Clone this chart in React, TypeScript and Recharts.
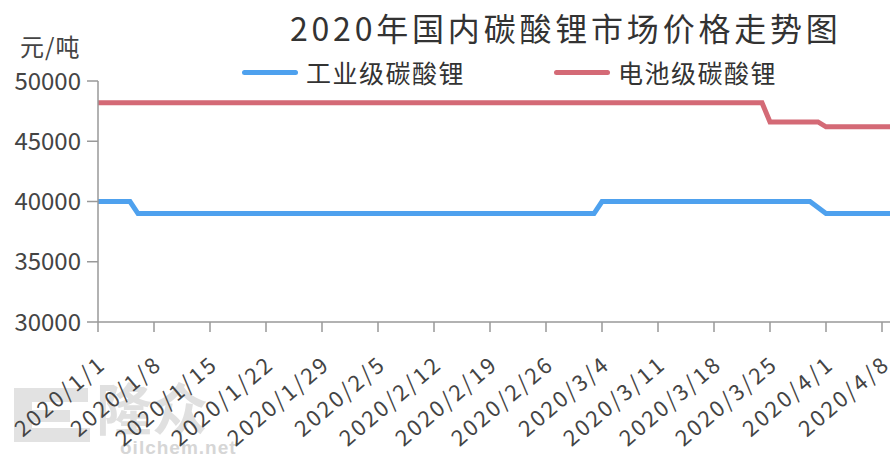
import React from 'react';
import { LineChart, Line, XAxis, YAxis } from 'recharts';

const dates: string[] = [
  '2020/1/1','2020/1/2','2020/1/3','2020/1/4','2020/1/5','2020/1/6','2020/1/7','2020/1/8','2020/1/9','2020/1/10',
  '2020/1/11','2020/1/12','2020/1/13','2020/1/14','2020/1/15','2020/1/16','2020/1/17','2020/1/18','2020/1/19','2020/1/20',
  '2020/1/21','2020/1/22','2020/1/23','2020/1/24','2020/1/25','2020/1/26','2020/1/27','2020/1/28','2020/1/29','2020/1/30',
  '2020/1/31','2020/2/1','2020/2/2','2020/2/3','2020/2/4','2020/2/5','2020/2/6','2020/2/7','2020/2/8','2020/2/9',
  '2020/2/10','2020/2/11','2020/2/12','2020/2/13','2020/2/14','2020/2/15','2020/2/16','2020/2/17','2020/2/18','2020/2/19',
  '2020/2/20','2020/2/21','2020/2/22','2020/2/23','2020/2/24','2020/2/25','2020/2/26','2020/2/27','2020/2/28','2020/2/29',
  '2020/3/1','2020/3/2','2020/3/3','2020/3/4','2020/3/5','2020/3/6','2020/3/7','2020/3/8','2020/3/9','2020/3/10',
  '2020/3/11','2020/3/12','2020/3/13','2020/3/14','2020/3/15','2020/3/16','2020/3/17','2020/3/18','2020/3/19','2020/3/20',
  '2020/3/21','2020/3/22','2020/3/23','2020/3/24','2020/3/25','2020/3/26','2020/3/27','2020/3/28','2020/3/29','2020/3/30',
  '2020/3/31','2020/4/1','2020/4/2','2020/4/3','2020/4/4','2020/4/5','2020/4/6','2020/4/7','2020/4/8','2020/4/9',
];

// 工业级碳酸锂
const industrial: number[] = [
  40000,40000,40000,40000,40000,39000,39000,39000,39000,39000,
  39000,39000,39000,39000,39000,39000,39000,39000,39000,39000,
  39000,39000,39000,39000,39000,39000,39000,39000,39000,39000,
  39000,39000,39000,39000,39000,39000,39000,39000,39000,39000,
  39000,39000,39000,39000,39000,39000,39000,39000,39000,39000,
  39000,39000,39000,39000,39000,39000,39000,39000,39000,39000,
  39000,39000,39000,40000,40000,40000,40000,40000,40000,40000,
  40000,40000,40000,40000,40000,40000,40000,40000,40000,40000,
  40000,40000,40000,40000,40000,40000,40000,40000,40000,40000,
  39500,39000,39000,39000,39000,39000,39000,39000,39000,39000,
];

// 电池级碳酸锂
const battery: number[] = [
  48200,48200,48200,48200,48200,48200,48200,48200,48200,48200,
  48200,48200,48200,48200,48200,48200,48200,48200,48200,48200,
  48200,48200,48200,48200,48200,48200,48200,48200,48200,48200,
  48200,48200,48200,48200,48200,48200,48200,48200,48200,48200,
  48200,48200,48200,48200,48200,48200,48200,48200,48200,48200,
  48200,48200,48200,48200,48200,48200,48200,48200,48200,48200,
  48200,48200,48200,48200,48200,48200,48200,48200,48200,48200,
  48200,48200,48200,48200,48200,48200,48200,48200,48200,48200,
  48200,48200,48200,48200,46600,46600,46600,46600,46600,46600,
  46600,46200,46200,46200,46200,46200,46200,46200,46200,46200,
];

const yTicks: number[] = [30000, 35000, 40000, 45000, 50000];
const seriesNames: string[] = ['工业级碳酸锂', '电池级碳酸锂'];
const seriesColors: string[] = ['#4ea1ee', '#d46a76'];
const title = '2020年国内碳酸锂市场价格走势图';
const unitLabel = '元/吨';

const data = dates.map((d, i) => ({ date: d, industrial: industrial[i], battery: battery[i] }));

const FONT = '"Noto Sans CJK SC", "Liberation Sans", sans-serif';

const XTick = (props: any) => {
  const { x, y, payload } = props;
  const ax = x + 3;
  const ay = y + 25;
  return (
    <text
      x={ax}
      y={ay}
      transform={`rotate(-40, ${ax}, ${ay})`}
      textAnchor="end"
      dominantBaseline="central"
      fill="#444"
      fontSize={22}
      fontFamily={FONT}
      letterSpacing={2.5}
    >
      {payload.value}
    </text>
  );
};

const LegendBox = () => (
  <div style={{ position: 'absolute', left: 242, top: 57, display: 'flex', alignItems: 'center', fontFamily: FONT, fontSize: 25, color: '#333', whiteSpace: 'nowrap' }}>
    {seriesNames.map((n, i) => (
      <div key={n} style={{ display: 'flex', alignItems: 'center', marginRight: i === 0 ? 89 : 0 }}>
        <div style={{ width: 56, height: 5, borderRadius: 3, background: seriesColors[i], marginRight: 8 }} />
        <span style={{ lineHeight: '30px', letterSpacing: 1.5 }}>{n}</span>
      </div>
    ))}
  </div>
);

export default function App() {
  return (
    <div style={{ position: 'absolute', left: 0, top: 0, width: 892, height: 457, background: '#fff', overflow: 'hidden' }}>
      {/* watermark */}
      <svg width={892} height={457} style={{ position: 'absolute', left: 0, top: 0 }}>
        <path d="M14 388 H88 V402 H32 V410 H70 V422 H32 V428 H90 V442 H14 Z" fill="#e2e2e2" />
        <text x={96} y={430} fontSize={56} fontFamily={FONT} fill="#e0e0e0" fontWeight={700}>隆众</text>
        <text x={120} y={454} fontSize={19} fontFamily="Liberation Sans, sans-serif" fill="#d6d6d6" fontWeight={700} letterSpacing={1}>oilchem.net</text>
      </svg>
      <div style={{ position: 'absolute', left: 290, top: 4, fontFamily: FONT, fontSize: 32, color: '#333', whiteSpace: 'nowrap', letterSpacing: 3.8 }}>
        {title}
      </div>
      <div style={{ position: 'absolute', left: 20, top: 28, fontFamily: FONT, fontSize: 24, color: '#444', whiteSpace: 'nowrap', letterSpacing: 1 }}>
        {unitLabel}
      </div>
      <LegendBox />
      <div style={{ position: 'absolute', left: 0, top: 0 }}>
        <LineChart width={892} height={457} data={data} margin={{ top: 81, right: 2, bottom: 0, left: 0 }}>
          <XAxis
            dataKey="date"
            interval={6}
            height={135}
            tickSize={10}
            axisLine={{ stroke: '#999', strokeWidth: 1.5 }}
            tickLine={{ stroke: '#999', strokeWidth: 1.5 }}
            tick={<XTick />}
          />
          <YAxis
            domain={[30000, 50000]}
            ticks={yTicks}
            interval={0}
            width={98}
            tickSize={11}
            tickMargin={6}
            axisLine={{ stroke: '#999', strokeWidth: 1.5 }}
            tickLine={{ stroke: '#999', strokeWidth: 1.5 }}
            tick={{ fill: '#444', fontSize: 24, fontFamily: FONT }}
          />
          <Line type="linear" dataKey="industrial" name={seriesNames[0]} stroke={seriesColors[0]} strokeWidth={5} dot={false} isAnimationActive={false} />
          <Line type="linear" dataKey="battery" name={seriesNames[1]} stroke={seriesColors[1]} strokeWidth={5} dot={false} isAnimationActive={false} />
        </LineChart>
      </div>
    </div>
  );
}
